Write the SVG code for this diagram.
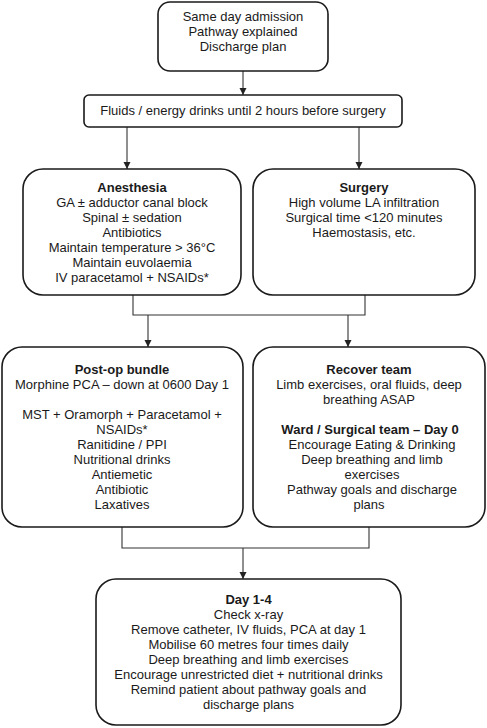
<svg xmlns="http://www.w3.org/2000/svg" width="487" height="728" viewBox="0 0 487 728">
<defs>
<marker id="ah" markerUnits="userSpaceOnUse" markerWidth="8" markerHeight="8" refX="7" refY="3.5" orient="auto">
<path d="M0,0 L7,3.5 L0,7 Z" fill="#222"/>
</marker>
</defs>
<style>
.box{fill:#fff;stroke:#1a1a1a;stroke-width:1.6}
.t{font-family:"Liberation Sans",Arial,sans-serif;font-size:13px;fill:#1a1a1a;text-anchor:middle}
.b{font-weight:bold}
.c{fill:none;stroke:#333;stroke-width:1.1}
.a{fill:none;stroke:#333;stroke-width:1.1;marker-end:url(#ah)}
</style>
<rect width="487" height="728" fill="#fff"/>
<g id="connectors">
<line class="a" x1="243" y1="71" x2="243" y2="95"/>
<line class="a" x1="127" y1="127" x2="127" y2="169"/>
<line class="a" x1="359" y1="127" x2="359" y2="169"/>
<polyline class="c" points="133,295 133,315 365,315 365,295"/>
<line class="a" x1="148" y1="315" x2="148" y2="347"/>
<line class="a" x1="348" y1="315" x2="348" y2="347"/>
<polyline class="c" points="122,527 122,548 369,548 369,527"/>
<line class="a" x1="243" y1="548" x2="243" y2="579"/>
</g>
<g id="admission">
<rect class="box" x="158" y="2" width="170" height="69" rx="12"/>
<text class="t" x="243" y="21">Same day admission</text>
<text class="t" x="243" y="36">Pathway explained</text>
<text class="t" x="243" y="51">Discharge plan</text>
</g>
<g id="fluids">
<rect class="box" x="84" y="95" width="318" height="32" rx="5"/>
<text class="t" x="243" y="115">Fluids / energy drinks until 2 hours before surgery</text>
</g>
<g id="anesthesia">
<rect class="box" x="23" y="169" width="218" height="126" rx="20"/>
<text class="t b" x="132" y="192">Anesthesia</text>
<text class="t" x="132" y="207">GA ± adductor canal block</text>
<text class="t" x="132" y="222">Spinal ± sedation</text>
<text class="t" x="132" y="237">Antibiotics</text>
<text class="t" x="132" y="252">Maintain temperature &gt; 36°C</text>
<text class="t" x="132" y="267">Maintain euvolaemia</text>
<text class="t" x="132" y="282">IV paracetamol + NSAIDs*</text>
</g>
<g id="surgery">
<rect class="box" x="253" y="169" width="222" height="126" rx="20"/>
<text class="t b" x="364" y="192">Surgery</text>
<text class="t" x="364" y="207">High volume LA infiltration</text>
<text class="t" x="364" y="222">Surgical time &lt;120 minutes</text>
<text class="t" x="364" y="237">Haemostasis, etc.</text>
</g>
<g id="postop">
<rect class="box" x="2" y="347" width="241" height="180" rx="20"/>
<text class="t b" x="122" y="374">Post-op bundle</text>
<text class="t" x="122" y="389">Morphine PCA – down at 0600 Day 1</text>
<text class="t" x="122" y="419">MST + Oramorph + Paracetamol +</text>
<text class="t" x="122" y="434">NSAIDs*</text>
<text class="t" x="122" y="449">Ranitidine / PPI</text>
<text class="t" x="122" y="464">Nutritional drinks</text>
<text class="t" x="122" y="479">Antiemetic</text>
<text class="t" x="122" y="494">Antibiotic</text>
<text class="t" x="122" y="509">Laxatives</text>
</g>
<g id="recover">
<rect class="box" x="253" y="347" width="232" height="180" rx="20"/>
<text class="t b" x="369" y="374">Recover team</text>
<text class="t" x="369" y="389">Limb exercises, oral fluids, deep</text>
<text class="t" x="369" y="404">breathing ASAP</text>
<text class="t b" x="370" y="434">Ward / Surgical team – Day 0</text>
<text class="t" x="372" y="449">Encourage Eating &amp; Drinking</text>
<text class="t" x="372" y="464">Deep breathing and limb</text>
<text class="t" x="372" y="479">exercises</text>
<text class="t" x="372" y="494">Pathway goals and discharge</text>
<text class="t" x="369" y="509">plans</text>
</g>
<g id="day14">
<rect class="box" x="96" y="579" width="305" height="146" rx="20"/>
<text class="t b" x="248.5" y="604">Day 1-4</text>
<text class="t" x="248.5" y="619">Check x-ray</text>
<text class="t" x="248.5" y="634">Remove catheter, IV fluids, PCA at day 1</text>
<text class="t" x="248.5" y="649">Mobilise 60 metres four times daily</text>
<text class="t" x="248.5" y="664">Deep breathing and limb exercises</text>
<text class="t" x="248.5" y="679">Encourage unrestricted diet + nutritional drinks</text>
<text class="t" x="248.5" y="694">Remind patient about pathway goals and</text>
<text class="t" x="248.5" y="709">discharge plans</text>
</g>
</svg>
